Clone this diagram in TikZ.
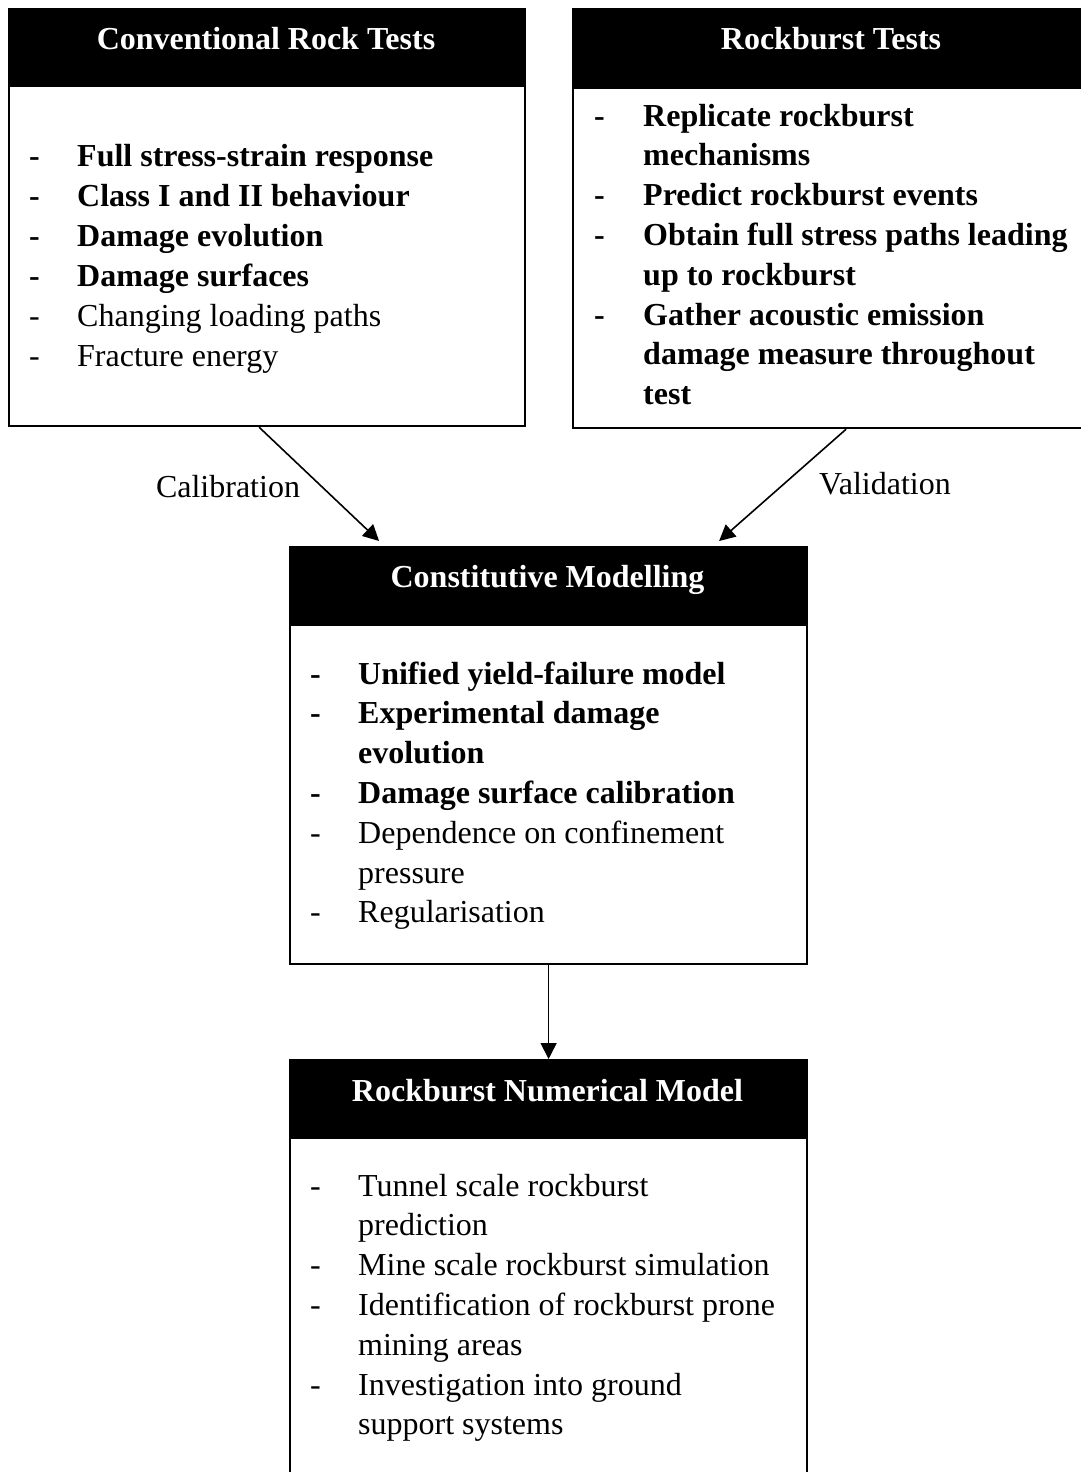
\documentclass[tikz,border=0pt]{standalone}
\usepackage{fontspec}
\setmainfont{Liberation Serif}
\usetikzlibrary{arrows.meta,calc}

\tikzset{
  panel/.style={draw=black, line width=2.2pt, fill=white, anchor=north west, inner sep=0pt},
  headbar/.style={draw=black, line width=2.2pt, fill=black, anchor=north west, inner sep=0pt},
  headtext/.style={anchor=base, inner sep=0pt, text=white, font=\fontsize{32}{40}\selectfont\bfseries},
  boldline/.style={anchor=base west, inner sep=0pt, font=\fontsize{32}{40}\selectfont\bfseries},
  plainline/.style={anchor=base west, inner sep=0pt, font=\fontsize{32}{40}\selectfont},
  edgelabel/.style={anchor=base, inner sep=0pt, font=\fontsize{32}{40}\selectfont},
  conn/.style={draw=black, line width=1.6pt, -{Triangle[length=16pt,width=16pt]}}
}

\begin{document}
\begin{tikzpicture}[x=1pt,y=-1pt]
\useasboundingbox (0,0) rectangle (1081,1472);
\clip (0,0) rectangle (1081,1472);

% ---------------- Conventional Rock Tests ----------------
\node[panel, minimum width=516pt, minimum height=417pt] (crt) at (8,8) {};
\node[headbar, minimum width=516pt, minimum height=77pt] (crth) at (8,8) {};
\node[headtext] (crtt) at (266,50) {Conventional Rock Tests};
\foreach \k/\t in {0/{Full stress-strain response}, 1/{Class I and II behaviour},
                   2/{Damage evolution}, 3/{Damage surfaces}} {
  \node[boldline] (crt-d\k) at (29,{166+40*\k}) {-};
  \node[boldline] (crt-l\k) at (77,{166+40*\k}) {\t};
}
\foreach \k/\t in {4/{Changing loading paths}, 5/{Fracture energy}} {
  \node[plainline] (crt-d\k) at (29,{166+40*\k}) {-};
  \node[plainline] (crt-l\k) at (77,{166+40*\k}) {\t};
}

% ---------------- Rockburst Tests ----------------
\node[panel, minimum width=528pt, minimum height=419pt] (rt) at (572,8) {};
\node[headbar, minimum width=528pt, minimum height=79pt] (rth) at (572,8) {};
\node[headtext] (rtt) at (831,50) {Rockburst Tests};
\foreach \k/\t in {0/{Replicate rockburst}, 1/{mechanisms}, 2/{Predict rockburst events},
                   3/{Obtain full stress paths leading}, 4/{up to rockburst},
                   5/{Gather acoustic emission}, 6/{damage measure throughout}, 7/{test}} {
  \node[boldline] (rt-l\k) at (643,{126+39.8*\k}) {\t};
}
\foreach \k in {0,2,3,5} {
  \node[boldline] (rt-d\k) at (594,{126+39.8*\k}) {-};
}

% ---------------- Constitutive Modelling ----------------
\node[panel, minimum width=517pt, minimum height=417pt] (cm) at (289,546) {};
\node[headbar, minimum width=517pt, minimum height=78pt] (cmh) at (289,546) {};
\node[headtext] (cmt) at (547.5,587) {Constitutive Modelling};
\foreach \k/\t in {0/{Unified yield-failure model}, 1/{Experimental damage},
                   2/{evolution}, 3/{Damage surface calibration}} {
  \node[boldline] (cm-l\k) at (358,{684+39.8*\k}) {\t};
}
\foreach \k/\t in {4/{Dependence on confinement}, 5/{pressure}, 6/{Regularisation}} {
  \node[plainline] (cm-l\k) at (358,{684+39.8*\k}) {\t};
}
\foreach \k in {0,1,3} {
  \node[boldline] (cm-d\k) at (310,{684+39.8*\k}) {-};
}
\foreach \k in {4,6} {
  \node[plainline] (cm-d\k) at (310,{684+39.8*\k}) {-};
}

% ---------------- Rockburst Numerical Model ----------------
\node[panel, minimum width=517pt, minimum height=441pt] (nm) at (289,1059) {};
\node[headbar, minimum width=517pt, minimum height=78pt] (nmh) at (289,1059) {};
\node[headtext] (nmt) at (547.5,1101) {Rockburst Numerical Model};
\foreach \k/\t in {0/{Tunnel scale rockburst}, 1/{prediction},
                   2/{Mine scale rockburst simulation}, 3/{Identification of rockburst prone},
                   4/{mining areas}, 5/{Investigation into ground}, 6/{support systems}} {
  \node[plainline] (nm-l\k) at (358,{1196+39.8*\k}) {\t};
}
\foreach \k in {0,2,3,5} {
  \node[plainline] (nm-d\k) at (310,{1196+39.8*\k}) {-};
}

% ---------------- Connectors ----------------
\draw[conn] ([xshift=-8pt]crt.south) -- ([xshift=-169.5pt,yshift=5pt]cm.north);
\draw[conn] ([xshift=9pt]rt.south) -- ([xshift=170.5pt,yshift=5pt]cm.north);
\draw[conn] (cm.south) -- (nm.north);

\node[edgelabel] (calib) at (228,497) {Calibration};
\node[edgelabel] (valid) at (885,494) {Validation};
\end{tikzpicture}
\end{document}
